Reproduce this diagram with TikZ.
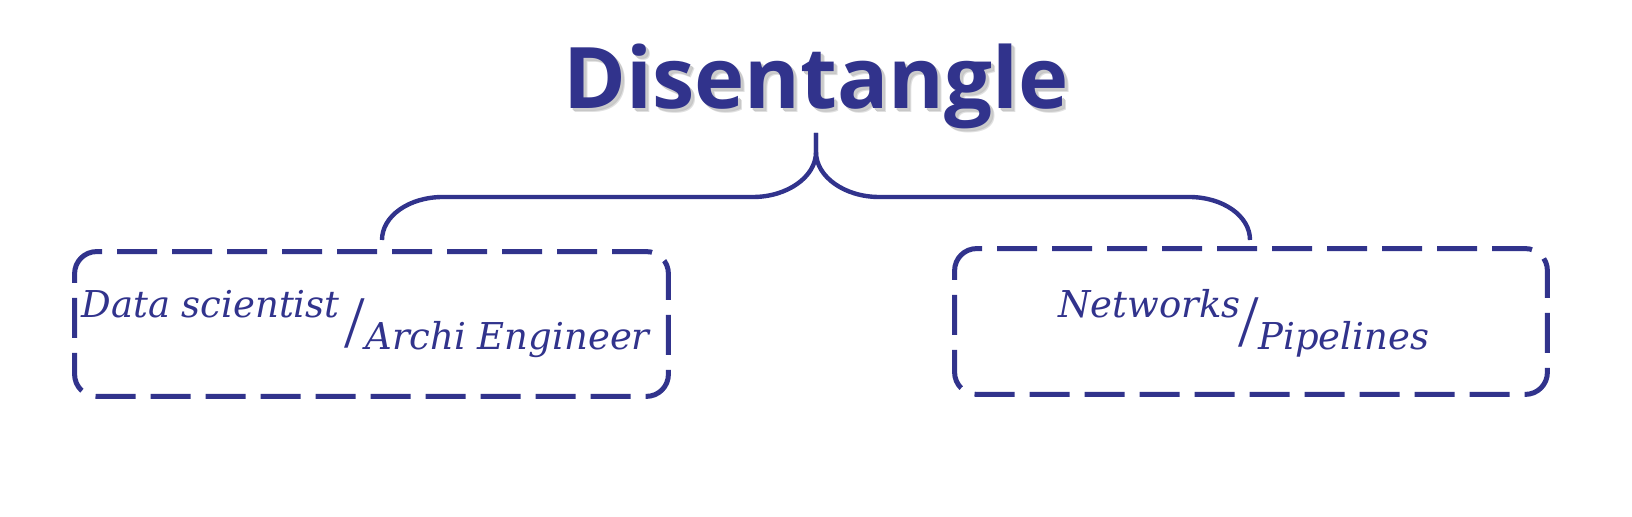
\documentclass[tikz,border=0pt]{standalone}
\usepackage{fontspec}
\usetikzlibrary{calc}
\newfontfamily\titlefont{Open Sans}
\newfontfamily\boxfont{DejaVu Serif}
\newfontfamily\slashfont{Liberation Serif}
\definecolor{navy}{RGB}{49,51,140}
\newcommand\shadowlayer[3]{\rlap{\hspace{#1}\raisebox{-#1}{\color{#2}#3}}}
\newcommand\shadowtext[1]{\shadowlayer{2pt}{black!12}{#1}\shadowlayer{1.5pt}{black!22}{#1}\shadowlayer{1pt}{black!20}{#1}\color{navy}#1}
\newcommand\dashframe[1]{%
  \draw[dashedbox]
    ($(#1.north west)+(0,22)$) .. controls +(0,-12.15) and +(-12.15,0) .. ($(#1.north west)+(22,0)$)
    -- ($(#1.north east)+(-22,0)$) .. controls +(12.15,0) and +(0,-12.15) .. ($(#1.north east)+(0,22)$)
    -- ($(#1.south east)+(0,-22)$) .. controls +(0,12.15) and +(12.15,0) .. ($(#1.south east)+(-22,0)$)
    -- ($(#1.south west)+(22,0)$) .. controls +(-12.15,0) and +(0,12.15) .. ($(#1.south west)+(0,-22)$)
    -- cycle;}
\begin{document}
\begin{tikzpicture}[x=0.5pt,y=-0.5pt,
  titletext/.style={anchor=base, inner sep=0pt, font=\titlefont\bfseries\fontsize{42.5}{50}\selectfont},
  boxtext/.style={anchor=base west, inner sep=0pt, text=navy, font=\boxfont\itshape\fontsize{18.5}{22}\selectfont},
  slashtext/.style={anchor=base, inner sep=0pt, text=navy, font=\slashfont\fontsize{37}{42}\selectfont},
  frame/.style={draw=none, inner sep=0pt},
  dashedbox/.style={draw=navy, line width=2.5pt, dash pattern=on 20pt off 7.5pt},
  bracepath/.style={draw=navy, line width=2.2pt}]
\useasboundingbox (0,0) rectangle (1632,517);
% title with soft shadow
\node[titletext] (title) at (816,109) {\shadowtext{Disentangle}};
% boxes
\node[frame, minimum width=296.5pt, minimum height=72pt] (lbox) at (371.5,324) {};
\node[frame, minimum width=296pt, minimum height=72.5pt] (rbox) at (1251,321.5) {};
\dashframe{lbox}
\dashframe{rbox}
% texts
\node[boxtext] (l1) at (81,318) {Data scientist};
\node[slashtext] (lslash) at (355,348) {/};
\node[boxtext] (l2) at (365,350) {Archi Engineer};
\node[boxtext] (r1) at (1058,318) {Networks};
\node[slashtext] (rslash) at (1249,347) {/};
\node[boxtext] (r2) at (1258,350) {Pipelines};
% brace
\coordinate (stem) at (816,133);
\coordinate (lend) at (382,240);
\coordinate (rend) at (1250,240);
\draw[bracepath] (stem) -- ++(0,19) .. controls ++(0,25) and (787,197) .. (753,197) -- (443,197) .. controls (409,197) and ([yshift=12pt]lend) .. (lend);
\draw[bracepath] (stem) -- ++(0,19) .. controls ++(0,25) and (845,197) .. (879,197) -- (1189,197) .. controls (1223,197) and ([yshift=12pt]rend) .. (rend);
\end{tikzpicture}
\end{document}
